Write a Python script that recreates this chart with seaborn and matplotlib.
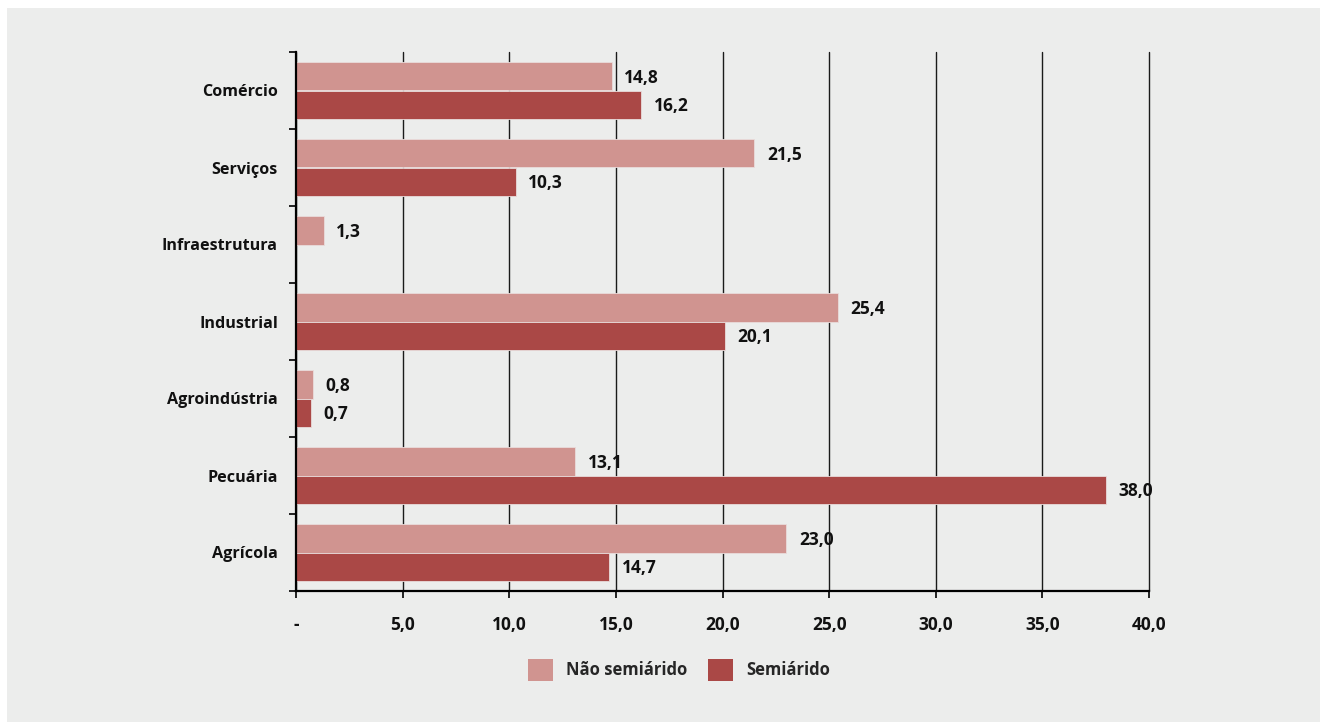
import numpy as np
import pandas as pd
import matplotlib
matplotlib.use("Agg")
import matplotlib.pyplot as plt
from matplotlib.patches import Rectangle
from matplotlib.ticker import FixedLocator
import seaborn as sns

# ─── 資料 ─────────────────────────────────────────────
categorias = ["Comércio", "Serviços", "Infraestrutura", "Industrial",
              "Agroindústria", "Pecuária", "Agrícola"]
nao_semiarido = [14.8, 21.5, 1.3, 25.4, 0.8, 13.1, 23.0]
semiarido = [16.2, 10.3, np.nan, 20.1, 0.7, 38.0, 14.7]
series = ["Não semiárido", "Semiárido"]
x_ticks = [0, 5, 10, 15, 20, 25, 30, 35, 40]
x_ticklabels = ["-", "5,0", "10,0", "15,0", "20,0", "25,0", "30,0", "35,0", "40,0"]

BG = "#ECEDEC"
CORES = ["#D09490", "#AA4846"]
TXT = "#111111"

df = pd.DataFrame({
    "categoria": categorias * 2,
    "serie": [series[0]] * len(categorias) + [series[1]] * len(categorias),
    "valor": nao_semiarido + semiarido,
})

sns.set_theme(style="white")
plt.rcParams["font.family"] = ["Open Sans", "DejaVu Sans"]
plt.rcParams["font.weight"] = "bold"

fig = plt.figure(figsize=(13.2, 7.22), dpi=100, facecolor="white")
fig.patches.append(Rectangle((7 / 1320, 0), 1, 1 - 8 / 722, transform=fig.transFigure,
                             facecolor=BG, edgecolor="none", zorder=-10))
ax = fig.add_axes([296 / 1320, 1 - 591 / 722, (1149 - 296) / 1320, (591 - 52) / 722])
ax.set_facecolor(BG)

sns.barplot(data=df, y="categoria", x="valor", hue="serie", order=categorias,
            hue_order=series, palette=CORES, orient="h", width=0.73,
            saturation=1, ax=ax, legend=True, edgecolor="#E9DCDB", linewidth=0.6)

# rótulos de valor
for p in ax.patches:
    w = p.get_width()
    if np.isnan(w) or w == 0:
        continue
    y = p.get_y() + p.get_height() / 2
    ax.annotate(f"{w:.1f}".replace(".", ","), (w, y), xytext=(9, -1),
                textcoords="offset points", ha="left", va="center",
                fontsize=12.5, fontweight="bold", color=TXT)

ax.set_xlim(0, 40)
ax.set_ylim(6.5, -0.5)
ax.set_xticks(x_ticks)
ax.set_xticklabels(x_ticklabels, fontsize=12.5, fontweight="bold", color=TXT)
ax.yaxis.set_minor_locator(FixedLocator(np.arange(-0.5, len(categorias), 1.0)))
ax.tick_params(axis="y", which="major", length=0, pad=13, labelsize=11.6, labelcolor=TXT)
ax.tick_params(axis="y", which="minor", length=5, width=1.2, color="black", left=True)
ax.tick_params(axis="x", which="major", length=5, width=1.2, color="black", pad=13, bottom=True)
for t in ax.get_yticklabels():
    t.set_fontweight("bold")

ax.grid(axis="x", color="#1a1a1a", linewidth=1.0)
for gl in ax.get_xgridlines():
    gl.set_clip_on(False)
ax.set_axisbelow(True)
for s in ["top", "right"]:
    ax.spines[s].set_visible(False)
for s in ["left", "bottom"]:
    ax.spines[s].set_color("black")
    ax.spines[s].set_linewidth(1.6)
ax.set_xlabel("")
ax.set_ylabel("")

handles, labels = ax.get_legend_handles_labels()
ax.get_legend().remove()
for h in handles:
    h.set_edgecolor("none")
fig.legend(handles, labels, loc="center", bbox_to_anchor=(679 / 1320, 1 - 670 / 722),
           ncol=2, frameon=False, handlelength=1.5, handleheight=1.6,
           columnspacing=1.2, handletextpad=0.8,
           prop={"weight": "bold", "size": 12})

fig.savefig("out.png", dpi=100, facecolor=fig.get_facecolor())
